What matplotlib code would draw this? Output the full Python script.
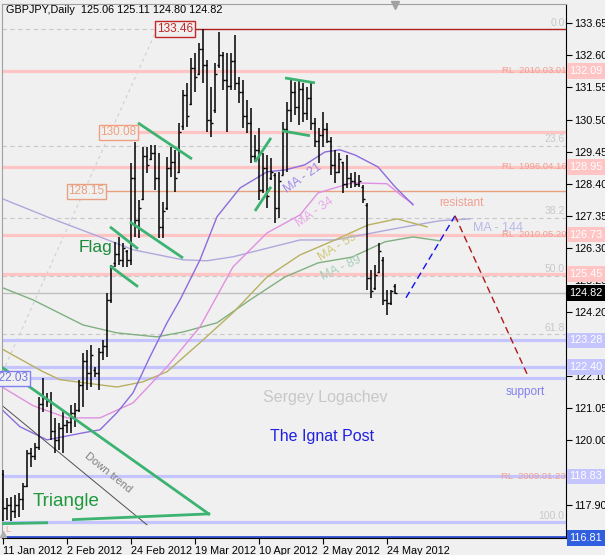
import matplotlib.pyplot as plt
import numpy as np

plt.rcParams['font.family'] = ['Liberation Sans', 'DejaVu Sans']

# GBPJPY daily bars (11 Jan 2012 .. end of May 2012)
highs = [119.04, 118.13, 118.16, 118.23, 118.29, 118.62, 119.70, 119.76, 119.93, 121.43,
         122.05, 121.56, 121.59, 120.74, 120.58, 121.00, 120.68, 121.17, 121.23, 121.99,
         122.87, 122.97, 123.13, 122.41, 123.03, 123.29, 124.83, 125.75, 126.50, 126.66,
         126.47, 126.24, 129.08, 129.77, 127.87, 129.60, 129.60, 129.67, 129.67, 129.41,
         127.81, 129.28, 129.60, 129.51, 130.39, 131.47, 131.70, 132.52, 132.68, 133.01,
         133.46, 132.45, 131.57, 132.35, 133.37, 132.71, 132.68, 132.68, 133.27, 131.90,
         131.80, 131.14, 130.88, 130.00, 130.23, 129.41, 129.34, 129.25, 128.75, 128.79,
         130.42, 131.08, 131.80, 131.73, 131.80, 131.70, 131.57, 131.73, 130.55, 130.23,
         130.75, 130.39, 129.93, 129.51, 129.41, 129.11, 129.34, 128.75, 128.79, 128.69,
         128.36, 127.77, 125.58, 125.75, 126.47, 126.01, 124.93, 124.93, 125.11]
lows = [117.38, 117.41, 117.38, 117.47, 117.51, 117.74, 118.49, 119.14, 119.37, 119.70,
        120.94, 121.10, 120.02, 119.60, 119.70, 119.60, 120.25, 120.25, 120.45, 120.94,
        121.10, 121.66, 121.76, 122.08, 121.66, 122.64, 122.74, 124.50, 125.68, 125.75,
        125.68, 125.68, 125.75, 126.66, 126.63, 127.87, 128.75, 129.18, 128.20, 126.63,
        126.63, 127.55, 128.62, 128.13, 128.75, 130.16, 130.26, 130.98, 131.40, 131.96,
        131.70, 130.10, 129.93, 130.72, 132.19, 131.47, 130.10, 131.47, 131.47, 131.04,
        130.23, 130.06, 129.08, 129.11, 127.87, 128.10, 127.61, 128.53, 127.12, 127.28,
        128.69, 128.79, 130.42, 130.65, 130.32, 130.42, 130.49, 130.16, 129.60, 129.08,
        129.60, 129.74, 128.69, 128.43, 128.75, 128.10, 128.26, 128.26, 128.30, 128.30,
        127.77, 124.93, 124.67, 124.93, 125.48, 124.44, 124.11, 124.44, 124.80]
opens = [118.90, 117.80, 117.90, 117.70, 117.90, 118.10, 118.50, 119.60, 119.50, 119.80,
         121.20, 121.40, 121.30, 120.30, 120.00, 120.40, 120.50, 120.60, 120.90, 121.00,
         121.80, 122.60, 122.20, 122.30, 122.20, 122.90, 123.10, 124.60, 125.80, 126.10,
         125.90, 126.20, 125.90, 128.60, 127.20, 127.90, 129.30, 129.20, 129.40, 128.60,
         127.00, 127.60, 128.90, 129.10, 128.80, 130.30, 131.30, 131.00, 132.20, 132.00,
         132.80, 132.30, 130.50, 130.80, 132.30, 132.60, 131.80, 131.60, 132.40, 131.70,
         131.40, 130.60, 130.40, 129.30, 129.50, 128.20, 128.90, 128.60, 128.70, 127.60,
         128.70, 130.20, 130.80, 131.40, 130.90, 131.50, 130.70, 131.20, 130.40, 129.80,
         130.00, 130.20, 129.80, 129.00, 128.80, 129.10, 128.40, 128.60, 128.50, 128.40,
         128.30, 127.70, 125.30, 125.00, 125.50, 125.90, 124.60, 124.50, 125.06]
closes = [117.80, 117.90, 117.70, 117.90, 118.10, 118.50, 119.60, 119.50, 119.80, 121.20,
          121.40, 121.30, 120.30, 120.00, 120.40, 120.50, 120.60, 120.90, 121.00, 121.80,
          122.60, 122.20, 122.80, 122.20, 122.90, 123.10, 124.60, 125.70, 126.10, 125.90,
          126.30, 125.90, 128.60, 127.20, 127.60, 129.30, 129.00, 129.40, 128.60, 127.00,
          127.50, 128.90, 129.10, 128.60, 130.10, 131.30, 130.60, 132.20, 131.90, 132.80,
          132.30, 130.50, 130.40, 132.00, 132.60, 131.80, 131.60, 132.40, 131.70, 131.40,
          130.60, 130.40, 129.30, 129.50, 128.20, 128.90, 128.00, 128.80, 127.60, 128.50,
          130.20, 130.80, 131.40, 130.90, 131.50, 130.70, 131.20, 130.40, 129.80, 130.00,
          130.20, 129.80, 129.00, 128.80, 129.20, 128.40, 128.60, 128.50, 128.40, 128.50,
          127.90, 125.30, 124.90, 125.40, 126.20, 124.60, 124.50, 124.90, 124.82]

# moving averages (bar index, price)
ma21_x = [-0.75, 4.25, 11, 20, 24.25, 28.5, 32.5, 36.75, 41, 44.25, 49.25, 53.5, 59.25,
          66, 70.5, 75.5, 80.5, 84.25, 88, 93.75, 98, 102.5]
ma21_y = [121.07, 120.45, 120.02, 120.25, 120.35, 120.91, 121.56, 122.74, 123.85, 124.60,
          125.91, 127.32, 128.26, 128.79, 128.85, 129.02, 129.44, 129.51, 129.34, 128.95,
          128.30, 127.71]
ma34_x = [-0.75, 7.5, 16, 24.25, 32.5, 41, 49.25, 57.5, 66, 74.25, 78.75, 87.25, 96, 100, 102.5]
ma34_y = [121.79, 121.14, 120.74, 120.74, 121.23, 122.41, 123.72, 125.68, 126.79, 127.38,
          128.10, 128.43, 128.40, 127.97, 127.74]
ma55_x = [-0.75, 10, 14.25, 24.25, 28.5, 35, 41, 49.25, 57.5, 66, 74.25, 83, 91.25, 98.5, 106]
ma55_y = [123.03, 122.25, 121.99, 121.82, 121.75, 121.92, 122.25, 123.20, 124.18, 125.35,
          126.07, 126.56, 127.05, 127.25, 126.99]
ma89_x = [-0.75, 7.5, 20, 28.5, 38.5, 45, 53.5, 61.75, 70.5, 78.75, 87.25, 95.5, 102.5, 109.25]
ma89_y = [125.03, 124.60, 123.78, 123.52, 123.39, 123.55, 123.85, 124.60, 125.35, 125.81,
          126.00, 126.50, 126.66, 126.53]
ma144_x = [-0.75, 11.75, 24.25, 32.5, 45, 51, 57.5, 74.25, 83, 99.25, 109.25, 116.75]
ma144_y = [127.94, 127.28, 126.66, 126.24, 125.91, 125.88, 126.01, 126.56, 126.56, 126.96,
           127.19, 127.25]

# levels
pink_levels = [132.09, 128.95, 126.73, 125.45]
blue_levels = [123.28, 122.40, 118.83, 117.33]
fib_pct = ['0.0', '23.6', '38.2', '50.0', '61.8', '100.0']
fib_price = [133.46, 129.65, 127.29, 125.385, 123.48, 117.31]
rl_labels = {132.09: 'RL  2010.03.01', 128.95: 'RL  1996.04.16',
             126.73: 'RL  2010.05.20', 118.83: 'RL  2009.01.23'}

yticks = [133.65, 132.60, 131.55, 130.50, 129.45, 128.40, 127.35, 126.30, 125.25,
          124.20, 123.15, 122.10, 121.05, 120.00, 118.95, 117.90]
xtick_pos = [0, 16, 32, 48, 64, 80, 96]
xtick_lab = ['11 Jan 2012', '2 Feb 2012', '24 Feb 2012', '19 Mar 2012',
             '10 Apr 2012', '2 May 2012', '24 May 2012']

# hand drawn green lines (bar index, price)
green_segs = [
    [(-0.75, 122.44), (51.75, 117.57)],
    [(-0.25, 117.28), (11.25, 117.31)],
    [(17.25, 117.41), (51.75, 117.60)],
    [(26.75, 126.99), (33.75, 126.27)],
    [(26.75, 125.71), (33.75, 125.03)],
    [(31.75, 127.15), (45, 125.97)],
    [(33.75, 130.39), (47.25, 129.21)],
    [(69.75, 130.13), (76.75, 129.97)],
    [(70.5, 131.86), (78, 131.70)],
    [(63, 129.11), (67, 129.90)],
    [(63, 127.51), (67, 128.30)],
]

BG = '#f0f0f0'
fig = plt.figure(figsize=(6.05, 5.55), dpi=100, facecolor=BG)
ax = fig.add_axes([2/605, 1-538/555, 564/605, 534/555])
ax.set_facecolor(BG)
ax.set_xlim(-0.25, 140.75)
ax.set_ylim(116.81, 134.28)

# fibo levels
for p in fib_price:
    ax.axhline(p, color='#c8c8c8', lw=0.8, ls=(0, (4, 3)), zorder=1)
for lab, p in zip(fib_pct, fib_price):
    ax.text(140.4, p + 0.05, lab, color='#c8c8c8', fontsize=7.5, ha='right', va='bottom')
ax.plot([-0.75, 38.5], [122.05, 133.46], color='#d0d0d0', lw=0.8, ls=(0, (3, 3)), zorder=1)

# horizontal levels
for p in pink_levels:
    ax.axhline(p, color='#ffc4c4', lw=2.3, zorder=1)
for p in blue_levels:
    ax.axhline(p, color='#c4c4ff', lw=2.3, zorder=1)
ax.plot([33.5, 141], [130.08, 130.08], color='#ffc4c4', lw=2.3, zorder=1)
ax.plot([6.25, 141], [122.03, 122.03], color='#c4c4ff', lw=2.3, zorder=1)
ax.plot([25.5, 141], [128.15, 128.15], color='#e8a080', lw=1.0, zorder=1)
ax.plot([47.5, 141], [133.46, 133.46], color='#b02020', lw=1.0, zorder=1)
ax.axhline(124.82, color='#c0c0c0', lw=1.0, zorder=1)
ax.axhline(116.84, color='#3050d0', lw=2, zorder=1)

for p, lab in rl_labels.items():
    ax.text(140.75, p, lab, color='#f0a090', fontsize=6.8, ha='right', va='center', zorder=2)

# boxed price labels on the chart
ax.text(43, 133.46, '133.46', color='#c02828', fontsize=8.5, ha='center', va='center',
        bbox=dict(boxstyle='square,pad=0.15', fc=BG, ec='#c02828', lw=1), zorder=6)
ax.text(28.9, 130.08, '130.08', color='#f0a080', fontsize=8.5, ha='center', va='center',
        bbox=dict(boxstyle='square,pad=0.15', fc=BG, ec='#f0a080', lw=1), zorder=6)
ax.text(20.9, 128.15, '128.15', color='#e8a080', fontsize=8.5, ha='center', va='center',
        bbox=dict(boxstyle='square,pad=0.15', fc=BG, ec='#e8a080', lw=1), zorder=6)
ax.text(6.2, 122.03, '122.03', color='#7070e8', fontsize=8.5, ha='right', va='center',
        bbox=dict(boxstyle='square,pad=0.15', fc=BG, ec='#8080f0', lw=1), zorder=6)

# moving averages
ax.plot(ma144_x, ma144_y, color='#b0a8dc', lw=1, zorder=2)
ax.plot(ma89_x, ma89_y, color='#80b080', lw=1, zorder=2)
ax.plot(ma55_x, ma55_y, color='#b8b060', lw=1, zorder=2)
ax.plot(ma34_x, ma34_y, color='#e090e0', lw=1, zorder=2)
ax.plot(ma21_x, ma21_y, color='#8c6cdc', lw=1, zorder=2)

# down trend line
ax.plot([-0.75, 36], [121.20, 117.24], color='#505050', lw=0.7, zorder=2)

# OHLC bars
x = np.arange(len(highs))
ax.vlines(x, lows, highs, color='black', lw=1.1, zorder=4)
ax.hlines(opens, x - 0.45, x, color='black', lw=1.0, zorder=4)
ax.hlines(closes, x, x + 0.45, color='black', lw=1.0, zorder=4)

for seg in green_segs:
    (x0, y0), (x1, y1) = seg
    ax.plot([x0, x1], [y0, y1], color='#3cb371', lw=2, zorder=5, solid_capstyle='butt')

# forecast
ax.plot([100.75, 113], [124.67, 127.35], color='#1010f0', lw=1, ls=(0, (5, 3)), zorder=5)
ax.plot([113, 131], [127.35, 122.18], color='#b01818', lw=1, ls=(0, (5, 3)), zorder=5)

# labels
ax.text(23, 126.30, 'Flag', color='#1e8a3c', fontsize=12.5, ha='center', va='center', zorder=6)
ax.text(15.75, 117.99, 'Triangle', color='#1e9a3c', fontsize=13.5, ha='center', va='center', zorder=6)
ax.text(26.25, 118.95, 'Down trend', color='#808080', fontsize=8, rotation=-39,
        ha='center', va='center', zorder=6)
ax.text(80.5, 121.40, 'Sergey Logachev', color='#c8c8c8', fontsize=11.5, ha='center', va='center')
ax.text(79.75, 120.12, 'The Ignat Post', color='#2020e0', fontsize=11.5, ha='center', va='center')
ax.text(114.5, 127.77, 'resistant', color='#f0a090', fontsize=8.5, ha='center', va='center')
ax.text(130.5, 121.59, 'support', color='#8080f0', fontsize=8.5, ha='center', va='center')
ax.text(75, 128.59, 'MA - 21', color='#a088e8', fontsize=9, rotation=35, ha='center', va='center', zorder=6)
ax.text(78, 127.48, 'MA - 34', color='#e8a8e8', fontsize=9, rotation=35, ha='center', va='center', zorder=6)
ax.text(83.75, 126.34, 'MA - 55', color='#d0c878', fontsize=9, rotation=32, ha='center', va='center', zorder=6)
ax.text(84.5, 125.65, 'MA - 89', color='#a8d0b8', fontsize=9, rotation=25, ha='center', va='center', zorder=6)
ax.text(117.5, 126.96, 'MA - 144', color='#b8b8e8', fontsize=9, ha='left', va='center', zorder=6)
ax.text(1.2, 116.95, 'L', color='#f0a080', fontsize=6.5, ha='center', va='bottom')
ax.plot([98], [134.25], marker='v', color='#a0a0a0', ms=6, clip_on=False, zorder=6)
ax.plot([-0.1], [116.95], marker='^', color='#b0b0b0', ms=4, clip_on=False, zorder=6)

# axes
ax.yaxis.tick_right()
ax.set_yticks(yticks)
ax.set_yticklabels(['%.2f' % v for v in yticks])
ax.tick_params(axis='y', length=4, labelsize=7.8, pad=2, colors='black')
ax.set_xticks(xtick_pos)
ax.set_xticklabels(xtick_lab)
for lbl in ax.get_xticklabels():
    lbl.set_horizontalalignment('left')
ax.tick_params(axis='x', length=4, labelsize=7.8, pad=2)
for s in ['top', 'left']:
    ax.spines[s].set_color('#a0a0a0')
ax.spines['right'].set_color('black')
ax.spines['bottom'].set_color('black')

# price labels on the right scale
right_boxes = [(132.09, '#ffc4c4', 'white'), (128.95, '#ffc4c4', 'white'),
               (126.73, '#ffc4c4', 'white'), (125.45, '#ffc4c4', 'white'),
               (124.82, 'black', 'white'), (123.28, '#c4c4ff', 'white'),
               (122.40, '#c4c4ff', 'white'), (118.83, '#c4c4ff', 'white'),
               (116.81, '#3060e0', 'white')]
for p, fc, tc in right_boxes:
    ax.text(1.006, p, '%.2f' % p, transform=ax.get_yaxis_transform(), fontsize=7.8,
            color=tc, ha='left', va='center', clip_on=False, zorder=10,
            bbox=dict(boxstyle='square,pad=0.25', fc=fc, ec='none'))

fig.text(6/605, 1-10/555, 'GBPJPY,Daily  125.06 125.11 124.80 124.82', fontsize=7.8,
         ha='left', va='center')

fig.savefig('out.png', dpi=100, facecolor=BG)
